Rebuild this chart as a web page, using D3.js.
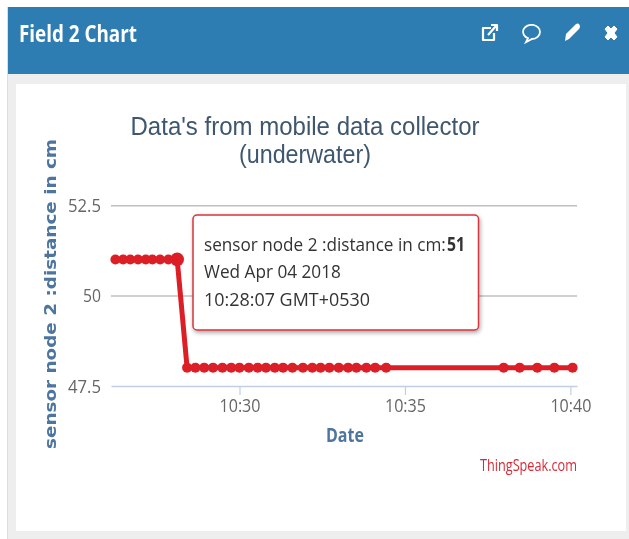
<!DOCTYPE html>
<html>
<head>
<meta charset="utf-8">
<script src="https://cdn.jsdelivr.net/npm/d3@7"></script>
<style>
html,body{margin:0;padding:0;background:#fff;}
svg{display:block;filter:blur(0.35px);}
text{font-family:"Open Sans",sans-serif;}
</style>
</head>
<body>
<svg id="chart" width="629" height="539"></svg>
<script>
const times = ["10:26:15","10:26:29","10:26:42","10:26:56","10:27:10","10:27:22","10:27:36","10:27:51","10:28:07",
"10:28:25","10:28:40","10:28:56","10:29:12","10:29:29","10:29:45","10:30:00","10:30:17","10:30:33","10:30:48","10:31:04","10:31:19","10:31:36","10:31:55","10:32:12","10:32:27","10:32:43","10:33:00","10:33:17","10:33:32","10:33:50","10:34:06","10:34:26",
"10:37:59","10:38:28","10:39:00","10:39:31","10:40:04"];
const values = [51,51,51,51,51,51,51,51,51,
48,48,48,48,48,48,48,48,48,48,48,48,48,48,48,48,48,48,48,48,48,48,48,
48,48,48,48,48];
const yTicks = [47.5,50,52.5];
const xTickLabels = ["10:30","10:35","10:40"];
const highlighted = "10:28:07";
const xDomainLabels = ["10:26:07","10:40:12"];
const panelTitle = "Field 2 Chart";
const titleLines = ["Data's from mobile data collector","(underwater)"];
const yTitle = "sensor node 2 :distance in cm";
const xTitle = "Date";
const credit = "ThingSpeak.com";
const tipSeries = "sensor node 2 :distance in cm:";
const tipValue = "51";
const tipLines = ["Wed Apr 04 2018","10:28:07 GMT+0530"];

const parse = s => d3.timeParse("%H:%M:%S")(s.length===5 ? s+":00" : s);
const svg = d3.select("#chart");

const defs = svg.append("defs");
const f = defs.append("filter").attr("id","shadow").attr("x","-10%").attr("y","-10%").attr("width","120%").attr("height","125%");
f.append("feDropShadow").attr("dx",1).attr("dy",2).attr("stdDeviation",2).attr("flood-color","#000").attr("flood-opacity",0.35);

// Panel
svg.append("rect").attr("x",7).attr("y",7).attr("width",622).attr("height",532).attr("fill","#eeeeee");
svg.append("rect").attr("x",7).attr("y",7).attr("width",1).attr("height",532).attr("fill","#dddddd");
svg.append("rect").attr("x",8).attr("y",7).attr("width",621).attr("height",67).attr("fill","#2e7db2");
svg.append("rect").attr("x",16).attr("y",84).attr("width",610).attr("height",447).attr("fill","#fff");

svg.append("text").text(panelTitle).attr("x",19).attr("y",42).attr("fill","#fff")
  .attr("font-size",24).attr("font-weight",700).attr("textLength",118).attr("lengthAdjust","spacingAndGlyphs");

// Header icons
const icons = svg.append("g").attr("fill","none").attr("stroke","#fff").attr("stroke-width",2.2);
icons.append("path").attr("d","M494 33v7h-11v-12h8M488 35l8-9M491 25h6v6").attr("stroke-linejoin","round");
icons.append("path").attr("d","M540 33a8.5 7 0 1 0 -12 6.2l-2 4 6-3.2a8.5 7 0 0 0 8-7z").attr("stroke-width",1.8).attr("transform","translate(0,-1)");
svg.append("path").attr("d","M565 41l1-7 10-10q2-1 3 0l1 2q0 2-1 3l-10 10z").attr("fill","#fff");
svg.append("path").attr("d","M605 29l3-3 3 3 3-3 3 3-3 4 3 4-3 3-3-3-3 3-3-3 3-4z").attr("fill","#fff").attr("stroke","#fff").attr("stroke-width",1);

// Scales
const x = d3.scaleTime().domain(xDomainLabels.map(parse)).range([111,577]);
const y = d3.scaleLinear().domain([47.5,52.5]).range([385.7,205.3]);

// Y grid and labels
const yAxis = svg.append("g").attr("transform","translate(111,0)")
  .call(d3.axisLeft(y).tickValues(yTicks).tickFormat(d=>d).tickSize(-466).tickPadding(10));
yAxis.select(".domain").remove();
yAxis.selectAll("line").attr("stroke",d=>d===47.5?"none":"#c0c0c0").attr("stroke-width",1.5);
yAxis.selectAll("text").attr("fill","#666").attr("font-size",18).attr("dy","0.36em")
  .attr("textLength",d=>d===50?18:33).attr("lengthAdjust","spacingAndGlyphs")
  .style("font-family","'Open Sans',sans-serif");

// X axis
const xAxis = svg.append("g").attr("transform","translate(0,386)")
  .call(d3.axisBottom(x).tickValues(xTickLabels.map(parse)).tickFormat(d3.timeFormat("%H:%M")).tickSize(9).tickSizeOuter(0).tickPadding(4));
xAxis.select(".domain").attr("stroke","#c0d0e0").attr("stroke-width",1.5);
xAxis.selectAll("line").attr("stroke","#c0d0e0").attr("stroke-width",1.2);
xAxis.selectAll("text").attr("fill","#666").attr("font-size",18)
  .attr("textLength",41).attr("lengthAdjust","spacingAndGlyphs")
  .style("font-family","'Open Sans',sans-serif");

// Titles
titleLines.forEach((t,i)=>{
  svg.append("text").text(t).attr("x",305).attr("y",[135,163][i]).attr("text-anchor","middle")
    .attr("fill","#3e576f").attr("font-size",25)
    .style("font-family","'Liberation Sans',sans-serif")
    .attr("textLength",[349,132][i]).attr("lengthAdjust","spacingAndGlyphs");
});
svg.append("text").text(yTitle).attr("transform","translate(56,294) rotate(-90)").attr("text-anchor","middle")
  .attr("fill","#4d759e").attr("font-size",15).attr("font-weight",700)
  .style("font-family","'DejaVu Sans',sans-serif").attr("textLength",310).attr("lengthAdjust","spacingAndGlyphs");
svg.append("text").text(xTitle).attr("x",345).attr("y",442).attr("text-anchor","middle")
  .attr("fill","#4d759e").attr("font-size",19).attr("font-weight",700)
  .attr("textLength",38).attr("lengthAdjust","spacingAndGlyphs");
svg.append("text").text(credit).attr("x",480).attr("y",471)
  .attr("fill","#d62a35").attr("font-size",16)
  .attr("textLength",97).attr("lengthAdjust","spacingAndGlyphs");

// Series
const data = times.map((t,i)=>({t:parse(t),v:values[i],raw:t}));
const red = "#dc1f26";
svg.append("path").datum(data)
  .attr("d",d3.line().x(d=>x(d.t)).y(d=>y(d.v)))
  .attr("fill","none").attr("stroke",red).attr("stroke-width",5);
svg.append("g").selectAll("circle").data(data).join("circle")
  .attr("cx",d=>x(d.t)).attr("cy",d=>y(d.v))
  .attr("r",d=>d.raw===highlighted?6.8:5).attr("fill",red);

// Tooltip
const tip = svg.append("g");
tip.append("rect").attr("x",193).attr("y",215).attr("width",285.5).attr("height",115).attr("rx",4)
  .attr("fill","#fff").attr("stroke","#d8343c").attr("stroke-width",1.5).attr("filter","url(#shadow)");
// Squeeze each tooltip line horizontally so its real box has the reference's width
const tipText = (str, left, base, width, bold) => {
  const t = tip.append("text").text(str).attr("fill","#333").attr("font-size",19)
    .attr("font-weight",bold?700:400);
  const sx = width / t.node().getComputedTextLength();
  t.attr("transform",`translate(${left},${base}) scale(${sx},1)`);
};
tipText(tipSeries,204,251,242,false);
tipText(tipValue,447,251,18,true);
tipLines.forEach((l,i)=>tipText(l,204,[278,306][i],[137,166][i],false));
</script>
</body>
</html>
